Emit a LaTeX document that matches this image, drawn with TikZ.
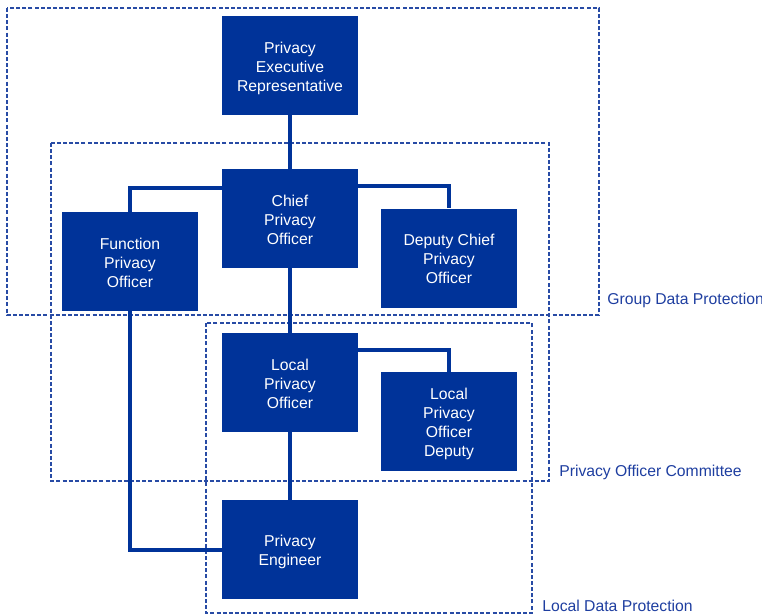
\documentclass[tikz,border=0pt]{standalone}
\usepackage{fontspec}
\setmainfont{Liberation Sans}
\usetikzlibrary{calc}
\definecolor{boxblue}{RGB}{0,51,153}
\definecolor{framblue}{RGB}{40,75,165}
\definecolor{lablue}{RGB}{30,62,160}
\newcommand\bxt[1]{\raisebox{-5.2pt}[0pt][0pt]{\begin{tabular}{@{}c@{}}#1\end{tabular}}}
\begin{document}
\begin{tikzpicture}[x=0.75pt,y=-0.75pt,
  orgbox/.style={fill=boxblue,draw=none,text=white,minimum width=102pt,minimum height=74.25pt,
    inner sep=2pt,font=\fontsize{11.8}{14.3}\selectfont},
  conn/.style={draw=boxblue,line width=3pt},
  frame/.style={draw=framblue,line width=1.1pt,dash pattern=on 3pt off 1.6pt},
  flabel/.style={text=lablue,anchor=west,inner sep=0pt,font=\fontsize{11.8}{14.3}\selectfont}]
\useasboundingbox (0,0) rectangle (762,614);
% frames
\draw[frame] (7,8) rectangle (599,315);
\draw[frame] (51,143) rectangle (549,481);
\draw[frame] (206,323) rectangle (532,613);
\node[flabel] (lgroup) at (607,300) {Group Data Protection};
\node[flabel] (lcomm) at (559,472) {Privacy Officer Committee};
\node[flabel] (llocal) at (542,606) {Local Data Protection};
% boxes
\node[orgbox] (per) at (290,65.5) {\bxt{Privacy\\Executive\\Representative}};
\node[orgbox] (cpo) at (290,218.5) {\bxt{Chief\\Privacy\\Officer}};
\node[orgbox] (fpo) at (130,261.5) {\bxt{Function\\Privacy\\Officer}};
\node[orgbox] (dcpo) at (449,258) {\bxt{Deputy Chief\\Privacy\\Officer}};
\node[orgbox] (lpo) at (290,382.5) {\bxt{Local\\Privacy\\Officer}};
\node[orgbox] (lpod) at (449,421.5) {\bxt{Local\\Privacy\\Officer\\Deputy}};
\node[orgbox] (pe) at (290,549.5) {\bxt{Privacy\\Engineer}};
% connectors
\draw[conn] (per.south) -- (cpo.north);
\draw[conn] ($(cpo.north west)+(0,19)$) -| (fpo.north);
\draw[conn] ($(cpo.north east)+(0,17)$) -| (dcpo.north);
\draw[conn] (cpo.south) -- (lpo.north);
\draw[conn] ($(lpo.north east)+(0,17)$) -| (lpod.north);
\draw[conn] (lpo.south) -- (pe.north);
\draw[conn] (fpo.south) |- (pe.west);
\end{tikzpicture}
\end{document}
